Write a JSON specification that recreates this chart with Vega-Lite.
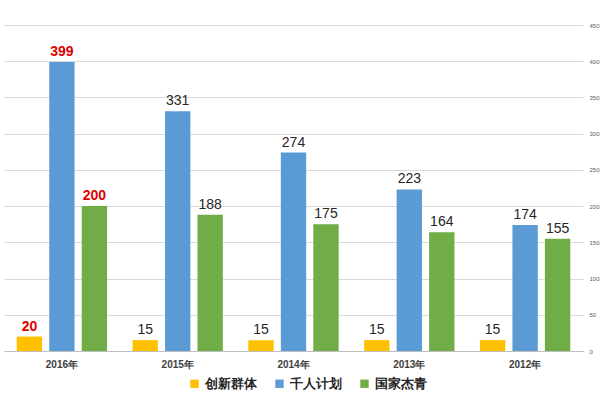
{
  "$schema": "https://vega.github.io/schema/vega-lite/v6.json",
  "width": 579,
  "height": 326,
  "padding": {"top": 22, "left": 4, "right": 0, "bottom": 0},
  "background": "white",
  "config": {
    "view": {"stroke": null},
    "font": "Liberation Sans"
  },
  "data": {
    "values": [
      {"year": "2016年", "series": "创新群体", "value": 20},
      {"year": "2016年", "series": "千人计划", "value": 399},
      {"year": "2016年", "series": "国家杰青", "value": 200},
      {"year": "2015年", "series": "创新群体", "value": 15},
      {"year": "2015年", "series": "千人计划", "value": 331},
      {"year": "2015年", "series": "国家杰青", "value": 188},
      {"year": "2014年", "series": "创新群体", "value": 15},
      {"year": "2014年", "series": "千人计划", "value": 274},
      {"year": "2014年", "series": "国家杰青", "value": 175},
      {"year": "2013年", "series": "创新群体", "value": 15},
      {"year": "2013年", "series": "千人计划", "value": 223},
      {"year": "2013年", "series": "国家杰青", "value": 164},
      {"year": "2012年", "series": "创新群体", "value": 15},
      {"year": "2012年", "series": "千人计划", "value": 174},
      {"year": "2012年", "series": "国家杰青", "value": 155}
    ]
  },
  "encoding": {
    "x": {
      "field": "year",
      "type": "nominal",
      "sort": ["2016年", "2015年", "2014年", "2013年", "2012年"],
      "scale": {"paddingInner": 0.22, "paddingOuter": 0.11},
      "axis": {
        "title": null,
        "labelAngle": 0,
        "labelFontSize": 10,
        "labelFontWeight": "bold",
        "labelColor": "#404040",
        "labelPadding": 8,
        "domainColor": "#bfbfbf",
        "ticks": false
      }
    },
    "xOffset": {
      "field": "series",
      "type": "nominal",
      "sort": ["创新群体", "千人计划", "国家杰青"],
      "scale": {"paddingInner": 0.22}
    },
    "y": {
      "field": "value",
      "type": "quantitative",
      "scale": {"domain": [0, 450]},
      "axis": {
        "title": null,
        "orient": "right",
        "values": [0, 50, 100, 150, 200, 250, 300, 350, 400, 450],
        "labelFontSize": 6,
        "labelColor": "#595959",
        "labelPadding": 6,
        "domain": false,
        "ticks": false,
        "gridColor": "#d9d9d9"
      }
    }
  },
  "layer": [
    {
      "mark": {"type": "bar"},
      "encoding": {
        "color": {
          "field": "series",
          "type": "nominal",
          "sort": ["创新群体", "千人计划", "国家杰青"],
          "scale": {
            "domain": ["创新群体", "千人计划", "国家杰青"],
            "range": ["#FFC000", "#5B9BD5", "#70AD47"]
          },
          "legend": {
            "title": null,
            "orient": "none",
            "legendX": 184,
            "legendY": 352,
            "direction": "horizontal",
            "symbolType": "square",
            "symbolSize": 70,
            "labelFontSize": 13,
            "labelFontWeight": "bold",
            "labelColor": "#262626",
            "columnPadding": 16
          }
        }
      }
    },
    {
      "transform": [{"filter": "datum.year != '2016年'"}],
      "mark": {"type": "text", "dy": -10, "fontSize": 14, "color": "#262626"},
      "encoding": {"text": {"field": "value", "type": "quantitative"}}
    },
    {
      "transform": [{"filter": "datum.year == '2016年'"}],
      "mark": {"type": "text", "dy": -10, "fontSize": 14, "fontWeight": "bold", "color": "#e00000"},
      "encoding": {"text": {"field": "value", "type": "quantitative"}}
    }
  ]
}
